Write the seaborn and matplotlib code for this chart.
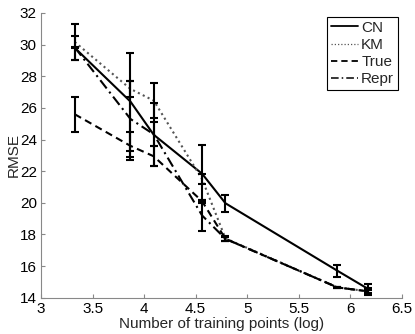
import numpy as np
import pandas as pd
import seaborn as sns
import matplotlib
matplotlib.use("Agg")
import matplotlib.pyplot as plt

# training set sizes (log10) and RMSE per method
x_points = [3.327, 3.868, 4.094, 4.563, 4.79, 5.877, 6.175]
methods = ["CN", "KM", "True", "Repr"]

cn_mean = [29.8, 26.4, 24.3, 21.84, 19.97, 15.7, 14.55]
cn_err = [0.77, 3.1, 2.0, 1.79, 0.55, 0.37, 0.29]
km_mean = [30.17, 27.2, 26.46, 21.5, 17.75, 14.65, 14.4]
km_err = [1.13, 0.5, 1.1, 0.3, 0.15, 0.05, 0.1]
true_mean = [25.6, 23.6, 22.94, 20.1, 17.72, 14.65, 14.4]
true_err = [1.1, 0.9, 0.64, 0.1, 0.12, 0.05, 0.15]
repr_mean = [29.83, 25.3, 24.33, 19.2, 17.72, 14.65, 14.4]
repr_err = [0.05, 2.4, 0.75, 1.0, 0.12, 0.05, 0.2]

x_ticks = [3, 3.5, 4, 4.5, 5, 5.5, 6, 6.5]
y_ticks = [14, 16, 18, 20, 22, 24, 26, 28, 30, 32]

means = {"CN": cn_mean, "KM": km_mean, "True": true_mean, "Repr": repr_mean}
errs = {"CN": cn_err, "KM": km_err, "True": true_err, "Repr": repr_err}

rows = []
for m in methods:
    for x, y, e in zip(x_points, means[m], errs[m]):
        rows.append({"x": x, "y": y, "err": e, "name": m})
df = pd.DataFrame(rows)

sns.set_style("ticks")
plt.rcParams["font.family"] = ["Liberation Sans", "DejaVu Sans"]
plt.rcParams["font.size"] = 11

fig = plt.figure(figsize=(4.15, 3.34), dpi=100)
ax = fig.add_axes([41 / 415, 1 - 297.7 / 334, (401.7 - 41) / 415, (297.7 - 13) / 334])

dashes = {"CN": "", "KM": (1, 1.6), "True": (3.5, 2.2), "Repr": (5, 2, 1, 2)}
palette = {"CN": "black", "KM": "#555555", "True": "black", "Repr": "black"}
widths = {"CN": 1.3, "KM": 0.9, "True": 1.3, "Repr": 1.1}

for m in methods:
    sub = df[df.name == m]
    ax.errorbar(sub.x, sub.y, yerr=sub.err, fmt="none", ecolor="black",
                elinewidth=1.5, capsize=3, capthick=1.5, zorder=3)

sns.lineplot(data=df, x="x", y="y", hue="name", style="name",
             hue_order=methods, style_order=methods, palette=palette,
             dashes=dashes, sort=False, estimator=None, ax=ax, legend=False,
             zorder=2)
for line, m in zip(ax.get_lines(), methods):
    line.set_linewidth(widths[m])

handles = []
for m in methods:
    h, = ax.plot([], [], color=palette[m], lw=widths[m])
    if dashes[m]:
        h.set_dashes(dashes[m])
    handles.append(h)
leg = ax.legend(handles, methods, loc="upper right",
                bbox_to_anchor=(398 / 415, 1 - 17 / 334),
                bbox_transform=fig.transFigure, fancybox=False,
                edgecolor="black", framealpha=1, handlelength=1.8,
                handletextpad=0.2, labelspacing=0.2, borderpad=0.25,
                borderaxespad=0, fontsize=11)
leg.get_frame().set_linewidth(0.8)

ax.set_xlim(3, 6.5)
ax.set_ylim(14, 32)
ax.set_xticks(x_ticks)
ax.set_yticks(y_ticks)
ax.set_xticklabels(["%g" % t for t in x_ticks])
ax.set_yticklabels(["%g" % t for t in y_ticks])
ax.set_xlabel("Number of training points (log)", labelpad=1)
ax.set_ylabel("RMSE")
ax.yaxis.set_label_coords(-0.056, 0.5)

for side in ["top", "right"]:
    ax.spines[side].set_visible(False)
for side in ["left", "bottom"]:
    ax.spines[side].set_color("#888888")
    ax.spines[side].set_linewidth(0.8)
ax.tick_params(direction="in", length=3, width=0.8, color="#888888",
               labelcolor="black", labelsize=11, pad=3)

fig.savefig("out.png", dpi=100)
